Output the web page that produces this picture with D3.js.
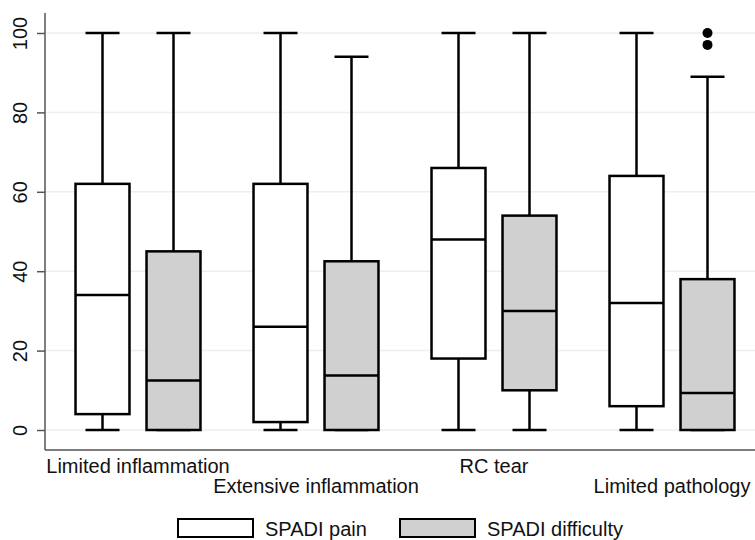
<!DOCTYPE html>
<html>
<head>
<meta charset="utf-8">
<script src="https://cdn.jsdelivr.net/npm/d3@7"></script>
<style>
  body { margin: 0; background: #fff; }
  svg { display: block; }
  svg text { font-family: "Liberation Sans", Arial, sans-serif; }
</style>
</head>
<body>
<svg id="chart" width="755" height="540"></svg>
<script>
// data
const categories = ["Limited inflammation", "Extensive inflammation", "RC tear", "Limited pathology"]
const series = ["SPADI pain", "SPADI difficulty"]
const yTicks = [0, 20, 40, 60, 80, 100]

const painLow = [0, 0, 0, 0]
const painQ1 = [4, 2, 18, 6]
const painMedian = [34, 26, 48, 32]
const painQ3 = [62, 62, 66, 64]
const painHigh = [100, 100, 100, 100]
const painOutliers = [[], [], [], []]

const diffLow = [0, 0, 0, 0]
const diffQ1 = [0, 0, 10, 0]
const diffMedian = [12.5, 13.7, 30, 9.3]
const diffQ3 = [45, 42.5, 54, 38]
const diffHigh = [100, 94, 100, 89]
const diffOutliers = [[], [], [], [100, 97]]

const fills = ["#ffffff", "#d0d0d0"]

// build box records
const boxes = []
categories.forEach((c, i) => {
    boxes.push({ cat: c, s: series[0], low: painLow[i], q1: painQ1[i], med: painMedian[i], q3: painQ3[i], high: painHigh[i], out: painOutliers[i] })
    boxes.push({ cat: c, s: series[1], low: diffLow[i], q1: diffQ1[i], med: diffMedian[i], q3: diffQ3[i], high: diffHigh[i], out: diffOutliers[i] })
})

const svg = d3.select("#chart")
const plotLeft = 45, plotRight = 755, plotBottom = 450

const y = d3.scaleLinear().domain([0, 100]).range([430, 33])
const x0 = d3.scaleBand().domain(categories).range([49, 761])
const x1 = d3.scaleBand().domain(series).range([18, 160])
const color = d3.scaleOrdinal().domain(series).range(fills)

const boxW = x1.bandwidth() * 0.76
const capW = boxW * 0.63
const cx = d => x0(d.cat) + x1(d.s) + x1.bandwidth() / 2

// grid lines
svg.append("g")
    .selectAll("line")
    .data(yTicks)
    .join("line")
    .attr("x1", plotLeft)
    .attr("x2", plotRight)
    .attr("y1", d => y(d))
    .attr("y2", d => y(d))
    .attr("stroke", "#eeeeee")
    .attr("stroke-width", 1.5)

// y axis
const yAxis = svg.append("g")
    .attr("transform", `translate(${plotLeft},0)`)
    .call(d3.axisLeft(y).tickValues(yTicks).tickSize(8).tickSizeOuter(0))
yAxis.select(".domain").remove()
yAxis.append("line")
    .attr("y1", 13).attr("y2", plotBottom)
    .attr("stroke", "#555").attr("stroke-width", 1.5)
yAxis.selectAll(".tick line").attr("stroke", "#555").attr("stroke-width", 1.5)
yAxis.selectAll(".tick text")
    .attr("transform", "rotate(-90)")
    .attr("x", 0)
    .attr("y", -18)
    .attr("dy", 0)
    .attr("text-anchor", "middle")
    .attr("fill", "#111")
    .style("font-size", "20px")

// x axis
svg.append("line")
    .attr("x1", plotLeft).attr("x2", plotRight)
    .attr("y1", plotBottom).attr("y2", plotBottom)
    .attr("stroke", "#555").attr("stroke-width", 1.5)

const xAxis = svg.append("g")
    .attr("transform", `translate(0,${plotBottom})`)
    .call(d3.axisBottom(x0).tickSize(0))
xAxis.select(".domain").remove()
xAxis.selectAll(".tick text")
    .attr("y", (d, i) => i % 2 === 0 ? 23 : 43)
    .attr("dy", 0)
    .attr("fill", "#111")
    .style("font-size", "20px")

// boxes
const g = svg.append("g")
    .selectAll("g")
    .data(boxes)
    .join("g")

g.append("line")
    .attr("x1", cx).attr("x2", cx)
    .attr("y1", d => y(d.high)).attr("y2", d => y(d.q3))
    .attr("stroke", "#000").attr("stroke-width", 2.5)
g.append("line")
    .attr("x1", cx).attr("x2", cx)
    .attr("y1", d => y(d.q1)).attr("y2", d => y(d.low))
    .attr("stroke", "#000").attr("stroke-width", 2.5)
g.append("line")
    .attr("x1", d => cx(d) - capW / 2).attr("x2", d => cx(d) + capW / 2)
    .attr("y1", d => y(d.high)).attr("y2", d => y(d.high))
    .attr("stroke", "#000").attr("stroke-width", 2.5)
g.append("line")
    .attr("x1", d => cx(d) - capW / 2).attr("x2", d => cx(d) + capW / 2)
    .attr("y1", d => y(d.low)).attr("y2", d => y(d.low))
    .attr("stroke", "#000").attr("stroke-width", 2.5)
g.append("rect")
    .attr("x", d => cx(d) - boxW / 2)
    .attr("width", boxW)
    .attr("y", d => y(d.q3))
    .attr("height", d => y(d.q1) - y(d.q3))
    .attr("fill", d => color(d.s))
    .attr("stroke", "#000").attr("stroke-width", 2.5)
g.append("line")
    .attr("x1", d => cx(d) - boxW / 2).attr("x2", d => cx(d) + boxW / 2)
    .attr("y1", d => y(d.med)).attr("y2", d => y(d.med))
    .attr("stroke", "#000").attr("stroke-width", 2.5)
g.selectAll("circle")
    .data(d => d.out.map(v => ({ v, d })))
    .join("circle")
    .attr("cx", o => cx(o.d))
    .attr("cy", o => y(o.v))
    .attr("r", 5)
    .attr("fill", "#000")

// legend
const legendX = [178, 400]
const legend = svg.append("g")
    .selectAll("g")
    .data(series)
    .join("g")
    .attr("transform", (d, i) => `translate(${legendX[i]},519)`)
legend.append("rect")
    .attr("width", 75).attr("height", 18)
    .attr("fill", d => color(d))
    .attr("stroke", "#000").attr("stroke-width", 2)
legend.append("text")
    .attr("x", 87).attr("y", 17)
    .attr("fill", "#111")
    .style("font-size", "20px")
    .text(d => d)
</script>
</body>
</html>
